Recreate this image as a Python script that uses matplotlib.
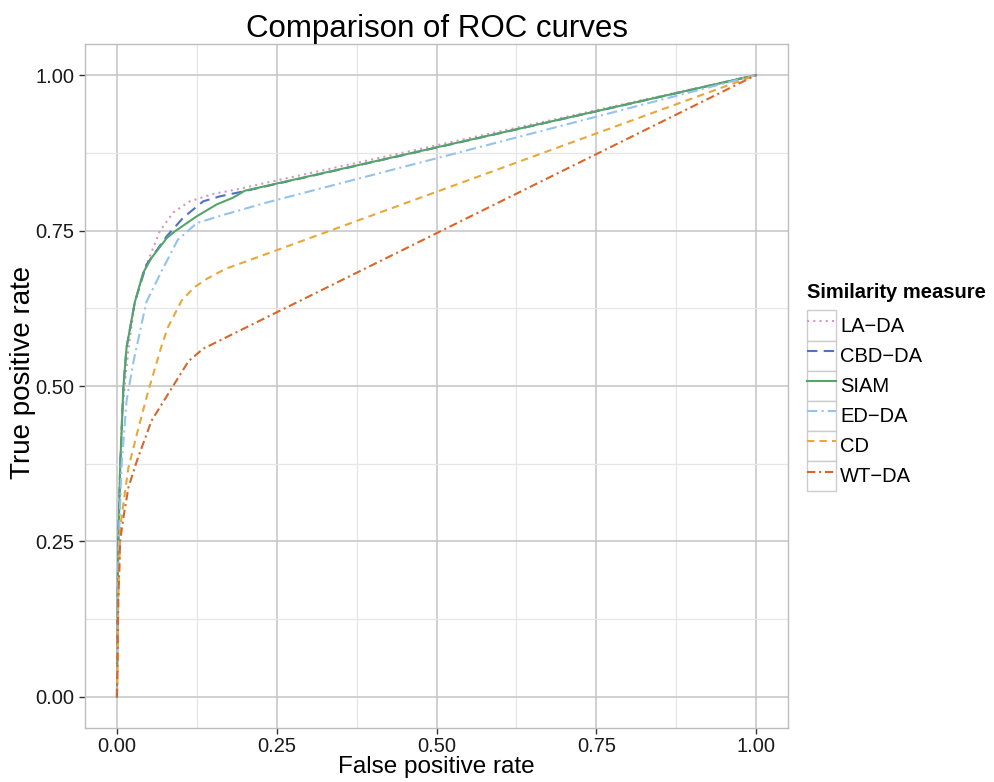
import matplotlib
matplotlib.use("Agg")
import matplotlib.pyplot as plt
from matplotlib.lines import Line2D
from matplotlib.patches import Rectangle
from matplotlib.legend_handler import HandlerLine2D
from matplotlib.ticker import MultipleLocator

plt.rcParams['font.family'] = ['Liberation Sans', 'DejaVu Sans']

# ---- data ----
series_names = ["LA\u2212DA", "CBD\u2212DA", "SIAM", "ED\u2212DA", "CD", "WT\u2212DA"]

la_fpr = [0, 0.001, 0.002, 0.005, 0.008, 0.012, 0.018, 0.028, 0.041, 0.054, 0.067, 0.088, 0.114, 0.151, 0.192, 0.234, 1.0]
la_tpr = [0, 0.15, 0.25, 0.37, 0.45, 0.50, 0.56, 0.635, 0.68, 0.715, 0.749, 0.779, 0.797, 0.809, 0.817, 0.827, 1.0]

cbd_fpr = [0, 0.001, 0.002, 0.005, 0.010, 0.015, 0.028, 0.046, 0.078, 0.104, 0.135, 0.161, 0.198, 1.0]
cbd_tpr = [0, 0.15, 0.25, 0.37, 0.497, 0.562, 0.635, 0.695, 0.741, 0.771, 0.797, 0.805, 0.813, 1.0]

siam_fpr = [0, 0.001, 0.002, 0.005, 0.010, 0.015, 0.028, 0.041, 0.054, 0.078, 0.091, 0.125, 0.156, 0.182, 0.200, 1.0]
siam_tpr = [0, 0.15, 0.24, 0.369, 0.497, 0.562, 0.635, 0.682, 0.706, 0.738, 0.749, 0.773, 0.792, 0.803, 0.814, 1.0]

ed_fpr = [0, 0.001, 0.003, 0.007, 0.015, 0.026, 0.046, 0.070, 0.095, 0.125, 0.166, 0.234, 1.0]
ed_tpr = [0, 0.15, 0.25, 0.369, 0.476, 0.540, 0.635, 0.685, 0.735, 0.762, 0.775, 0.795, 1.0]

cd_fpr = [0, 0.002, 0.005, 0.007, 0.018, 0.031, 0.049, 0.070, 0.080, 0.101, 0.120, 0.140, 0.169, 1.0]
cd_tpr = [0, 0.15, 0.262, 0.288, 0.369, 0.422, 0.492, 0.565, 0.595, 0.637, 0.658, 0.672, 0.688, 1.0]

wt_fpr = [0, 0.002, 0.005, 0.010, 0.018, 0.031, 0.054, 0.086, 0.112, 0.135, 1.0]
wt_tpr = [0, 0.15, 0.251, 0.288, 0.337, 0.379, 0.444, 0.497, 0.540, 0.560, 1.0]

x_ticks = [0.0, 0.25, 0.5, 0.75, 1.0]
y_ticks = [0.0, 0.25, 0.5, 0.75, 1.0]
tick_labels = ["0.00", "0.25", "0.50", "0.75", "1.00"]

# ---- styles ----
colors = ["#d596c4", "#4f72c2", "#55a468", "#94c3ec", "#e8a838", "#d9652b"]
styles = [(0, (1, 2)), (0, (5, 3)), "-", (0, (5, 2, 1, 2)), (0, (3.5, 2.5)), (0, (4, 1.8, 1, 1.8))]
fprs = [la_fpr, cbd_fpr, siam_fpr, ed_fpr, cd_fpr, wt_fpr]
tprs = [la_tpr, cbd_tpr, siam_tpr, ed_tpr, cd_tpr, wt_tpr]

fig = plt.figure(figsize=(9.95, 7.82), dpi=100)
ax = fig.add_axes([85/995, 1 - 728/782, (788 - 85)/995, (728 - 44)/782])

handles = []
for name, fx, ty, c, ls in zip(series_names, fprs, tprs, colors, styles):
    h, = ax.plot(fx, ty, color=c, linestyle=ls, linewidth=1.5, label=name)
    handles.append(h)

ax.set_xlim(-0.05, 1.05)
ax.set_ylim(-0.05, 1.05)
ax.set_xticks(x_ticks)
ax.set_xticklabels(tick_labels)
ax.set_yticks(y_ticks)
ax.set_yticklabels(tick_labels)
ax.xaxis.set_minor_locator(MultipleLocator(0.125))
ax.yaxis.set_minor_locator(MultipleLocator(0.125))
ax.grid(which='major', color='#c8c8c8', linewidth=1.2)
ax.grid(which='minor', color='#e6e6e6', linewidth=0.9)
ax.set_axisbelow(True)
for s in ax.spines.values():
    s.set_color('#bdbdbd')
    s.set_linewidth(1.0)
ax.tick_params(which='major', direction='out', length=4.5, width=1.0, color='#333333',
               labelsize=14.5, labelcolor='#1a1a1a', pad=3)
ax.tick_params(axis='x', which='major', pad=2)
ax.tick_params(which='minor', length=0)

ax.set_xlabel("False positive rate", fontsize=17.5, labelpad=0)
ax.set_ylabel("True positive rate", fontsize=20)
ax.yaxis.set_label_coords(-0.07, 0.52)
ax.set_title("Comparison of ROC curves", fontsize=22.5, pad=3)


class BoxedHandler(HandlerLine2D):
    def create_artists(self, legend, orig_handle, xdescent, ydescent, width, height, fontsize, trans):
        arts = super().create_artists(legend, orig_handle, xdescent, ydescent, width, height, fontsize, trans)
        rect = Rectangle((-xdescent, -ydescent), width, height, facecolor='white',
                         edgecolor='#cccccc', linewidth=1.0, transform=trans, zorder=0)
        return [rect] + list(arts)


leg = fig.legend(handles=handles, labels=series_names, loc='center left',
                 bbox_to_anchor=(807/995, 1 - 387/782), frameon=False,
                 title="Similarity measure", alignment='left',
                 fontsize=14.5, title_fontproperties={'weight': 'bold', 'size': 14.5},
                 handlelength=1.45, handleheight=1.92, labelspacing=0.0,
                 handletextpad=0.2, borderpad=0, borderaxespad=0,
                 handler_map={Line2D: BoxedHandler()})
leg._legend_box.sep = 6

fig.savefig("out.png", dpi=100)
